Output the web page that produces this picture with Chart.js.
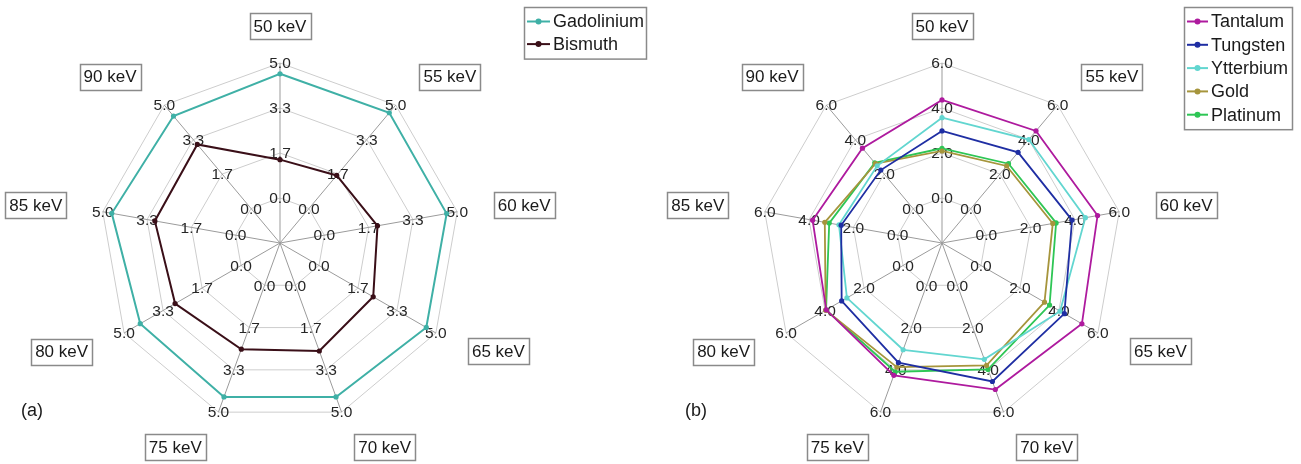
<!DOCTYPE html>
<html><head><meta charset="utf-8">
<script src="https://cdn.jsdelivr.net/npm/chart.js@4.4.1/dist/chart.umd.min.js"></script>
<style>
html,body{margin:0;padding:0;background:#fff;}
#wrap{position:relative;width:1301px;height:464px;overflow:hidden;}
canvas{position:absolute;top:0;}
</style></head><body>
<div id="wrap">
<canvas id="ca" width="650" height="464" style="left:0px"></canvas>
<canvas id="cb" width="651" height="464" style="left:650px"></canvas>
</div>
<script>
// ---- data ----
const energies = ['50 keV','55 keV','60 keV','65 keV','70 keV','75 keV','80 keV','85 keV','90 keV'];

const gadolinium = [4.60, 4.63, 4.60, 4.59, 4.40, 4.40, 4.31, 4.66, 4.47];
const bismuth    = [1.42, 1.60, 2.00, 2.32, 2.59, 2.52, 2.82, 3.04, 3.10];

const tantalum  = [4.36, 4.50, 5.02, 5.18, 4.93, 4.26, 3.94, 3.84, 3.50];
const tungsten  = [2.98, 3.26, 3.87, 4.28, 4.55, 3.66, 3.15, 2.55, 2.23];
const ytterbium = [3.57, 4.00, 4.47, 4.06, 3.50, 3.05, 2.88, 2.65, 2.48];
const gold      = [2.09, 2.47, 3.00, 3.26, 3.79, 3.87, 3.97, 3.29, 2.60];
const platinum  = [2.21, 2.60, 3.15, 3.52, 3.98, 4.09, 3.95, 3.09, 2.65];

const tickValuesA = [0, 5/3, 10/3, 5];
const tickLabelsA = ['0.0', '1.7', '3.3', '5.0'];
const centerValueA = -5/3;
const tickValuesB = [0, 2, 4, 6];
const tickLabelsB = ['0.0', '2.0', '4.0', '6.0'];
const centerValueB = -2;

const FONT = '"Liberation Sans", Arial, sans-serif';

const radarDecor = {
  id: 'radarDecor',
  beforeDatasetsDraw(chart, args, opts) {
    const s = chart.scales.r, ctx = chart.ctx;
    ctx.save();
    ctx.font = '15.5px ' + FONT;
    ctx.fillStyle = '#262626';
    ctx.textAlign = 'center';
    ctx.textBaseline = 'middle';
    chart.data.labels.forEach((_, i) => {
      opts.tickValues.forEach((v, k) => {
        const p = s.getPointPositionForValue(i, v);
        ctx.fillText(opts.tickLabels[k], p.x, p.y + 1);
      });
    });
    ctx.restore();
  },
  afterDraw(chart, args, opts) {
    const s = chart.scales.r, ctx = chart.ctx;
    ctx.save();
    // category boxes
    ctx.font = '17px ' + FONT;
    ctx.textAlign = 'center';
    ctx.textBaseline = 'middle';
    chart.data.labels.forEach((lab, i) => {
      const p = s.getPointPosition(i, s.drawingArea + opts.labelGap);
      const dx = p.x - s.xCenter;
      const w = ctx.measureText(lab).width + 8, h = 26;
      let bx = p.x;
      if (dx > 2) bx += w / 2; else if (dx < -2) bx -= w / 2;
      const by = p.y;
      ctx.fillStyle = '#fff';
      ctx.fillRect(bx - w/2, by - h/2, w, h);
      ctx.strokeStyle = '#8a8a8a';
      ctx.lineWidth = 1.5;
      ctx.strokeRect(Math.round(bx - w/2) + 0.5, Math.round(by - h/2) + 0.5, Math.round(w), h);
      ctx.fillStyle = '#1a1a1a';
      ctx.fillText(lab, bx, by + 1);
    });
    // legend
    const L = opts.legend;
    const n = chart.data.datasets.length;
    const bh = 2 * L.first + (n - 1) * L.rowH;
    ctx.fillStyle = '#fff';
    ctx.fillRect(L.x, L.y, L.w, bh);
    ctx.strokeStyle = '#8a8a8a';
    ctx.lineWidth = 1.5;
    ctx.strokeRect(L.x + 0.5, L.y + 0.5, L.w, bh);
    ctx.font = '18px ' + FONT;
    ctx.textAlign = 'left';
    chart.data.datasets.forEach((ds, k) => {
      const yy = L.y + L.first + k * L.rowH;
      ctx.strokeStyle = ds.borderColor;
      ctx.lineWidth = 2;
      ctx.beginPath();
      ctx.moveTo(L.x + 3, yy); ctx.lineTo(L.x + 3 + L.mark, yy);
      ctx.stroke();
      ctx.fillStyle = ds.borderColor;
      ctx.beginPath();
      ctx.arc(L.x + 3 + L.mark / 2, yy, 3, 0, Math.PI * 2);
      ctx.fill();
      ctx.fillStyle = '#1a1a1a';
      ctx.fillText(ds.label, L.x + L.mark + 6, yy + 1);
    });
    // panel letter
    ctx.font = '18px ' + FONT;
    ctx.textAlign = 'left';
    ctx.fillStyle = '#1a1a1a';
    ctx.fillText(opts.letter.text, opts.letter.x, opts.letter.y);
    ctx.restore();
  }
};

function makeChart(id, datasets, tickValues, tickLabels, centerValue, padding, legend, letter, lw) {
  const maxV = tickValues[tickValues.length - 1];
  return new Chart(document.getElementById(id), {
    type: 'radar',
    data: {
      labels: energies,
      datasets: datasets.map(d => ({
        label: d.label, data: d.data,
        borderColor: d.color, backgroundColor: d.color,
        pointBackgroundColor: d.color, pointBorderColor: d.color,
        borderWidth: lw, pointRadius: 2.6, pointBorderWidth: 0,
        fill: false, tension: 0
      }))
    },
    options: {
      responsive: false, animation: false, devicePixelRatio: 1,
      layout: { padding: padding },
      plugins: {
        legend: { display: false }, tooltip: { enabled: false },
        radarDecor: { tickValues, tickLabels, labelGap: 37, legend, letter }
      },
      scales: {
        r: {
          min: centerValue, max: maxV,
          afterBuildTicks: (sc) => { sc.ticks = [centerValue].concat(tickValues).map(v => ({ value: v })); },
          ticks: { display: false },
          pointLabels: { display: false },
          grid: { color: '#cdcdcd', lineWidth: 1, circular: false },
          angleLines: { color: '#9b9b9b', lineWidth: 1 }
        }
      }
    },
    plugins: [radarDecor]
  });
}

makeChart('ca', [
  { label: 'Gadolinium', data: gadolinium, color: '#3fb0a6' },
  { label: 'Bismuth', data: bismuth, color: '#3a0f18' }
], tickValuesA, tickLabelsA, centerValueA,
  { left: 100, right: 190, top: 63, bottom: 41 },
  { x: 524, y: 7, w: 122, first: 14.5, rowH: 22.6, mark: 23 },
  { text: '(a)', x: 21, y: 411 }, 2);

makeChart('cb', [
  { label: 'Tantalum', data: tantalum, color: '#ae1a9e' },
  { label: 'Tungsten', data: tungsten, color: '#1f2ea3' },
  { label: 'Ytterbium', data: ytterbium, color: '#62d6d0' },
  { label: 'Gold', data: gold, color: '#a6953c' },
  { label: 'Platinum', data: platinum, color: '#2ec655' }
], tickValuesB, tickLabelsB, centerValueB,
  { left: 112, right: 179, top: 63, bottom: 41 },
  { x: 534, y: 7, w: 108, first: 14.5, rowH: 23.3, mark: 21 },
  { text: '(b)', x: 35, y: 411 }, 1.8);
</script>
</body></html>
